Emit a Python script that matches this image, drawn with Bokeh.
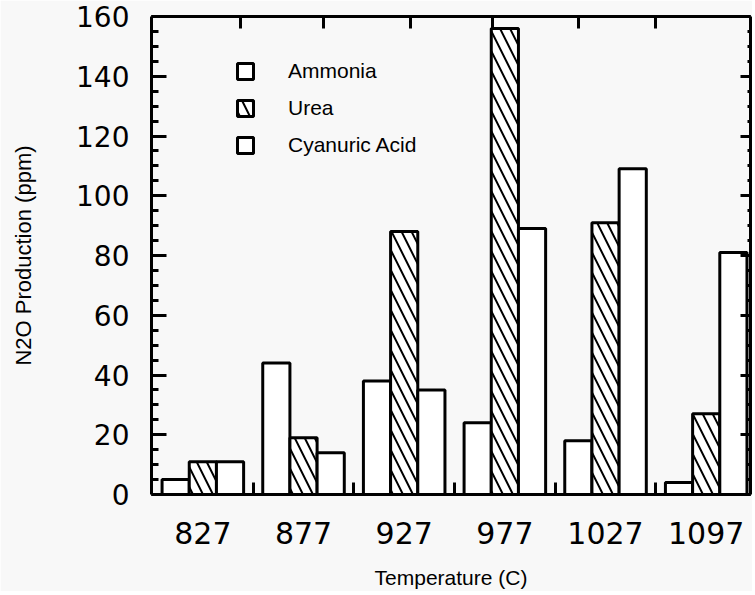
import numpy as np
from bokeh.plotting import figure
from bokeh.models import (Range1d, LinearAxis, FixedTicker, SingleIntervalTicker,
                          Legend, LegendItem, CustomJSTickFormatter)
from bokeh.embed import file_html
from bokeh.resources import INLINE

# ---- data ----
temperatures = ["827", "877", "927", "977", "1027", "1097"]
ammonia = [5, 44, 38, 24, 18, 4]
urea = [11, 19, 88, 156, 91, 27]
cyanuric = [11, 14, 35, 89, 109, 81]
series_names = ["Ammonia", "Urea", "Cyanuric Acid"]

# ---- layout / style ----
BG = "#f8f8f8"
BAR_W = 0.27
idx = np.arange(len(temperatures))
top_tick_pos = [0.37, 1.2, 2.06, 2.88, 3.73, 4.5]

p = figure(width=752, height=591, output_backend="svg", toolbar_location=None,
           x_range=Range1d(-0.51, 5.44), y_range=Range1d(0, 160),
           x_axis_location=None, y_axis_location=None,
           min_border_left=151, min_border_right=2, min_border_top=16,
           min_border_bottom=95,
           background_fill_color=BG, border_fill_color=BG)
p.styles = {"margin-bottom": "-10px", "margin-right": "-10px"}
p.grid.visible = False
p.outline_line_color = None

common = dict(width=BAR_W, bottom=0, line_color="black", line_width=3,
              fill_color="white")
r_amm = p.vbar(x=idx - BAR_W, top=ammonia, **common)
r_urea = p.vbar(x=idx, top=urea, hatch_pattern="\\", hatch_scale=20,
                hatch_weight=2, hatch_color="black", **common)
r_cya = p.vbar(x=idx + BAR_W, top=cyanuric, **common)

# left axis
yax = LinearAxis(ticker=SingleIntervalTicker(interval=20, num_minor_ticks=4),
                 axis_label="N2O Production (ppm)")
yax.axis_line_width = 3
yax.axis_line_color = "black"
yax.major_tick_in = 15
yax.major_tick_out = 0
yax.major_tick_line_width = 3
yax.minor_tick_in = 7
yax.minor_tick_out = 0
yax.minor_tick_line_width = 3
yax.major_label_text_font = "DejaVu Sans"
yax.major_label_text_font_size = "28px"
yax.major_label_text_color = "black"
yax.major_label_standoff = 22
yax.axis_label_text_font = "Liberation Sans"
yax.axis_label_text_font_style = "normal"
yax.axis_label_text_font_size = "22px"
yax.axis_label_text_color = "black"
yax.axis_label_standoff = 37
p.add_layout(yax, "left")

# bottom axis
xax = LinearAxis(ticker=FixedTicker(ticks=[int(i) for i in idx],
                                    minor_ticks=[float(i) + 0.5 for i in idx[:-1]]),
                 axis_label="Temperature (C)")
xax.major_label_overrides = {int(i): t for i, t in zip(idx, temperatures)}
xax.axis_line_width = 3
xax.axis_line_color = "black"
xax.major_tick_line_color = None
xax.minor_tick_in = 12
xax.minor_tick_out = 0
xax.minor_tick_line_width = 3
xax.major_label_text_font = "DejaVu Sans"
xax.major_label_text_font_size = "30px"
xax.major_label_text_color = "black"
xax.major_label_standoff = 21
xax.axis_label_text_font = "Liberation Sans"
xax.axis_label_text_font_style = "normal"
xax.axis_label_text_font_size = "21px"
xax.axis_label_text_color = "black"
xax.axis_label_standoff = 19
p.add_layout(xax, "below")

blank = CustomJSTickFormatter(code="return ''")

# right axis
rax = LinearAxis(ticker=SingleIntervalTicker(interval=20, num_minor_ticks=4),
                 formatter=blank)
rax.axis_line_width = 3
rax.axis_line_color = "black"
rax.major_tick_in = 10
rax.major_tick_out = 0
rax.major_tick_line_width = 3
rax.minor_tick_in = 3
rax.minor_tick_out = 0
rax.minor_tick_line_width = 3
rax.major_label_standoff = 0
rax.major_label_text_font_size = "0px"
p.add_layout(rax, "right")

# top axis
tax = LinearAxis(ticker=FixedTicker(ticks=top_tick_pos, minor_ticks=[]),
                 formatter=blank)
tax.axis_line_width = 3
tax.axis_line_color = "black"
tax.major_tick_in = 12
tax.major_tick_out = 0
tax.major_tick_line_width = 3
tax.minor_tick_line_color = None
tax.major_label_standoff = 0
tax.major_label_text_font_size = "0px"
p.add_layout(tax, "above")

legend = Legend(items=[LegendItem(label=n, renderers=[r])
                       for n, r in zip(series_names, [r_amm, r_urea, r_cya])],
                location=(84, 337), orientation="vertical")
legend.glyph_width = 20
legend.glyph_height = 20
legend.label_height = 20
legend.spacing = 13
legend.label_standoff = 33
legend.padding = 0
legend.margin = 0
legend.border_line_color = None
legend.background_fill_alpha = 0
legend.label_text_font = "Liberation Sans"
legend.label_text_font_size = "21px"
legend.label_text_color = "black"
p.add_layout(legend, "center")

open("out.html", "w").write(file_html(p, INLINE))
